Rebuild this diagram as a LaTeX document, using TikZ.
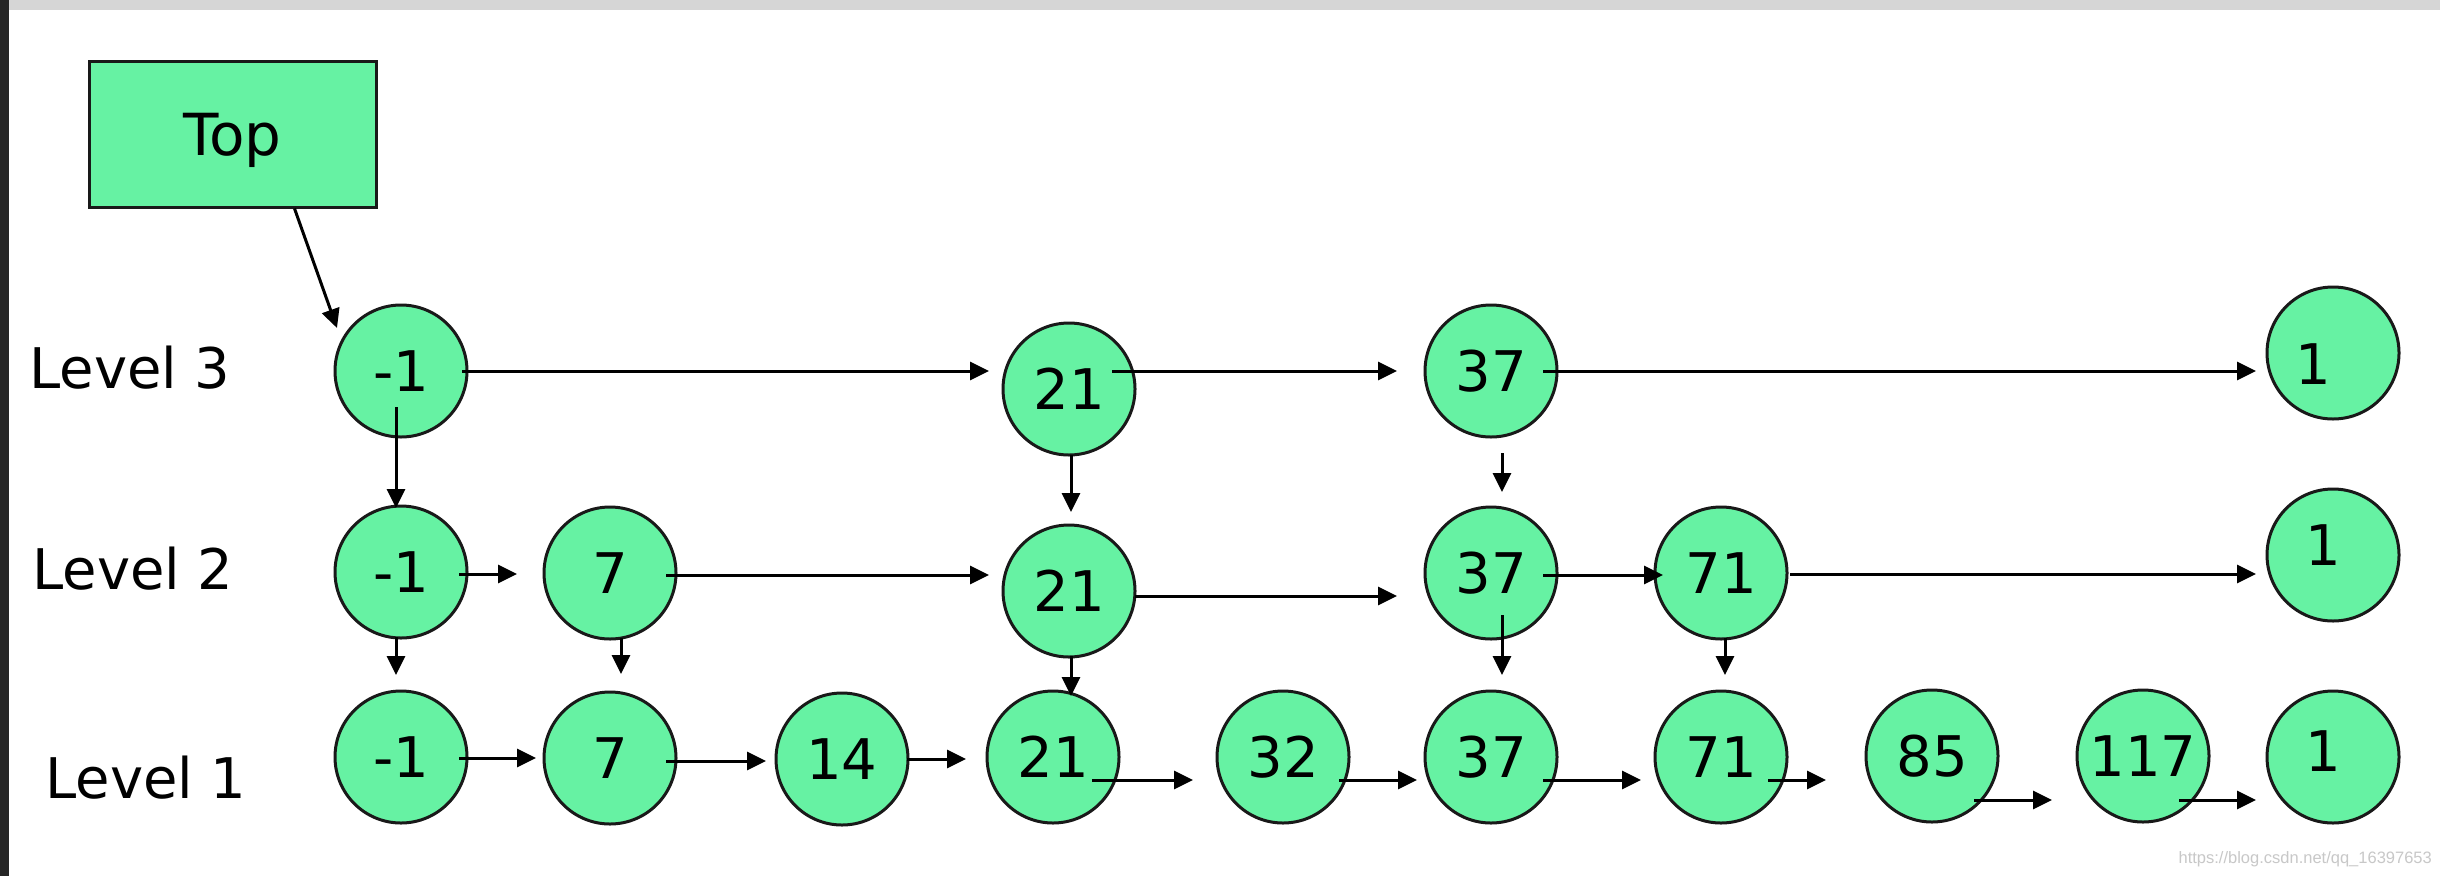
\documentclass[tikz,border=0pt]{standalone}
\usepackage{fontspec}
\setmainfont{DejaVu Sans}
\newfontfamily\wmfont{Liberation Sans}
\usetikzlibrary{arrows.meta}
\definecolor{nodegreen}{RGB}{102,242,163}
\definecolor{bargray}{RGB}{214,214,214}
\definecolor{wmgray}{RGB}{200,200,200}
\begin{document}
\begin{tikzpicture}[x=1pt,y=-1pt,
  circ/.style={circle,draw=black!90,line width=3pt,fill=nodegreen,minimum size=132pt,inner sep=0pt,font=\fontsize{56pt}{60pt}\selectfont},
  numtxt/.style={inner sep=0pt,font=\fontsize{56pt}{60pt}\selectfont},
  arr/.style={-{Triangle[length=19pt,width=18pt]},line width=3pt},
  lvl/.style={inner sep=0pt,font=\fontsize{56pt}{60pt}\selectfont},
  topbox/.style={draw=black!90,line width=3pt,fill=nodegreen,minimum width=287pt,minimum height=146pt,inner sep=0pt,text depth=0pt,font=\fontsize{58pt}{60pt}\selectfont}
]
\useasboundingbox (0,0) rectangle (2440,876);
\fill[white] (0,0) rectangle (2440,876);
\fill[bargray] (0,0) rectangle (2440,10);
\fill[black!85] (0,0) rectangle (9,876);

% top box
\node[topbox] (top) at (232.5,134) {Top};

% level labels
\node[lvl] (lv3) at (130,368) {Level 3};
\node[lvl] (lv2) at (133,569) {Level 2};
\node[lvl] (lv1) at (146,778) {Level 1};

% level 3
\node[circ] (m3) at (401,371) {-1};
\node[circ] (a3) at (1069,389) {21};
\node[circ] (b3) at (1491,371) {37};
\node[circ] (r3) at (2333,353) {};
\node[numtxt] (r3t) at (2313,364) {1};

% level 2
\node[circ] (m2) at (401,572) {-1};
\node[circ] (s2) at (610,573) {7};
\node[circ] (a2) at (1069,591) {21};
\node[circ] (b2) at (1491,573) {37};
\node[circ] (c2) at (1721,573) {71};
\node[circ] (r2) at (2333,555) {};
\node[numtxt] (r2t) at (2323,545) {1};

% level 1
\node[circ] (m1) at (401,757) {-1};
\node[circ] (s1) at (610,758) {7};
\node[circ] (t1) at (842,759) {14};
\node[circ] (a1) at (1053,757) {21};
\node[circ] (u1) at (1283,757) {32};
\node[circ] (b1) at (1491,757) {37};
\node[circ] (c1) at (1721,757) {71};
\node[circ] (d1) at (1932,756) {85};
\node[circ] (e1) at (2143,756) {117};
\node[circ] (r1) at (2333,757) {};
\node[numtxt] (r1t) at (2323,751) {1};

% watermark
\node[anchor=east,inner sep=0pt,text=wmgray,font=\wmfont\fontsize{16.5pt}{18pt}\selectfont] (wm) at (2432,859) {https://blog.csdn.net/qq\_16397653};

% top pointer
\draw[arr] ([shift={(62,0)}]top.south) -- ([shift={(-64,-43)}]m3.center);

% level 3 arrows
\draw[arr] ([shift={(61,0)}]m3.center) -- ([shift={(-80,-18)}]a3.center);
\draw[arr] ([shift={(43,-18)}]a3.center) -- ([shift={(-94,0)}]b3.center);
\draw[arr] ([shift={(52,0)}]b3.center) -- ([shift={(-77,18)}]r3.center);
\draw[arr] ([shift={(-5,36)}]m3.center) -- ([shift={(-5,-64)}]m2.center);
\draw[arr] ([shift={(2,66)}]a3.center) -- ([shift={(2,-79)}]a2.center);
\draw[arr] ([shift={(11,82)}]b3.center) -- ([shift={(11,-81)}]b2.center);

% level 2 arrows
\draw[arr] ([shift={(58,2)}]m2.center) -- ([shift={(-93,1)}]s2.center);
\draw[arr] ([shift={(56,2)}]s2.center) -- ([shift={(-80,-16)}]a2.center);
\draw[arr] ([shift={(66,5)}]a2.center) -- ([shift={(-94,23)}]b2.center);
\draw[arr] ([shift={(52,2)}]b2.center) -- ([shift={(-58,2)}]c2.center);
\draw[arr] ([shift={(69,1)}]c2.center) -- ([shift={(-77,19)}]r2.center);
\draw[arr] ([shift={(-5,65)}]m2.center) -- ([shift={(-5,-82)}]m1.center);
\draw[arr] ([shift={(11,65)}]s2.center) -- ([shift={(11,-84)}]s1.center);
\draw[arr] ([shift={(2,65)}]a2.center) -- ([shift={(18,-61)}]a1.center);
\draw[arr] ([shift={(11,42)}]b2.center) -- ([shift={(11,-82)}]b1.center);
\draw[arr] ([shift={(4,65)}]c2.center) -- ([shift={(4,-82)}]c1.center);

% level 1 arrows
\draw[arr] ([shift={(58,1)}]m1.center) -- ([shift={(-74,0)}]s1.center);
\draw[arr] ([shift={(56,3)}]s1.center) -- ([shift={(-76,2)}]t1.center);
\draw[arr] ([shift={(65,0)}]t1.center) -- ([shift={(-87,2)}]a1.center);
\draw[arr] ([shift={(39,23)}]a1.center) -- ([shift={(-90,23)}]u1.center);
\draw[arr] ([shift={(56,23)}]u1.center) -- ([shift={(-74,23)}]b1.center);
\draw[arr] ([shift={(52,23)}]b1.center) -- ([shift={(-80,23)}]c1.center);
\draw[arr] ([shift={(47,23)}]c1.center) -- ([shift={(-106,24)}]d1.center);
\draw[arr] ([shift={(42,44)}]d1.center) -- ([shift={(-91,44)}]e1.center);
\draw[arr] ([shift={(36,44)}]e1.center) -- ([shift={(-77,43)}]r1.center);
\end{tikzpicture}
\end{document}
